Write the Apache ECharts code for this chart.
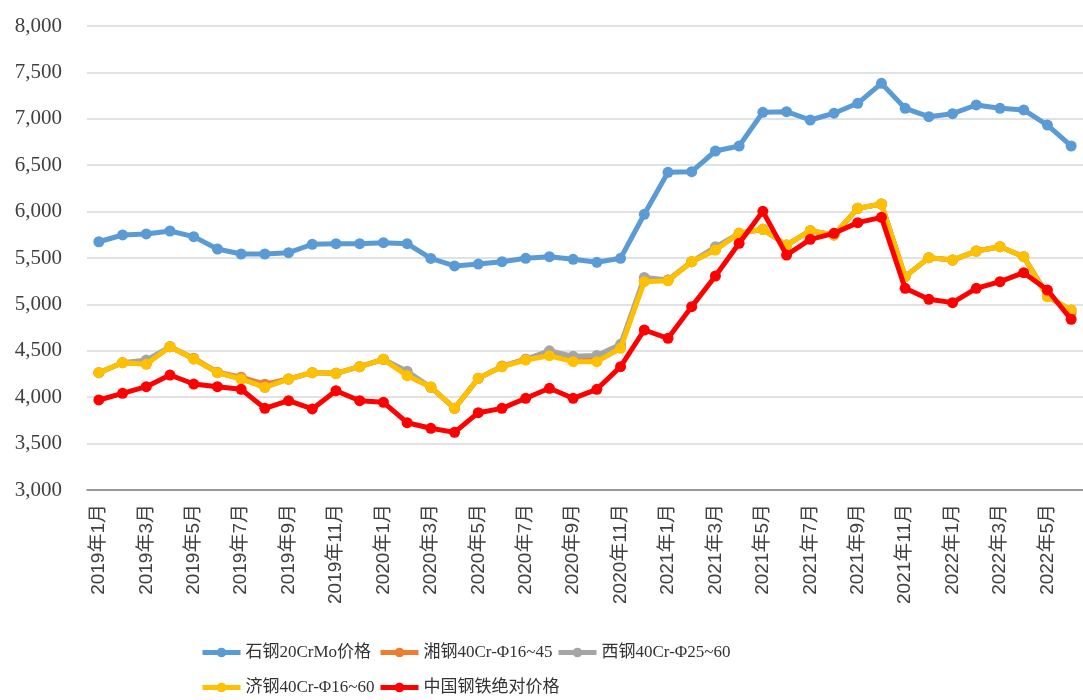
<!DOCTYPE html>
<html>
<head>
<meta charset="utf-8">
<script src="https://cdn.jsdelivr.net/npm/echarts@6/dist/echarts.min.js"></script>
<style>
  html, body { margin: 0; padding: 0; background: #fff; }
  #main { width: 1083px; height: 700px; }
</style>
</head>
<body>
<div id="main"></div>
<script>
// 月份
var months = []
;[2019, 2020, 2021, 2022].forEach(function (y) {
  for (var m = 1; m <= 12; m++) {
    if (y === 2022 && m > 6) break
    months.push(y + '年' + m + '月')
  }
})

var shiGang = [5675, 5748, 5759, 5791, 5730, 5597, 5543, 5543, 5557, 5648, 5654, 5654, 5665, 5654, 5495,
  5414, 5435, 5460, 5497, 5514, 5486, 5454, 5497, 5971, 6423, 6430, 6653, 6707, 7070,
  7077, 6987, 7060, 7167, 7382, 7113, 7023, 7055, 7149, 7113, 7095, 6933, 6707]
var xiangGang = [4264, 4372, 4360, 4544, 4420, 4270, 4215, 4140, 4196, 4264, 4257, 4329, 4408, 4240, 4110,
  3880, 4203, 4335, 4410, 4460, 4400, 4400, 4540, 5255, 5263, 5460, 5590, 5766, 5809,
  5640, 5794, 5748, 6035, 6082, 5299, 5504, 5478, 5575, 5622, 5514, 5100, 4910]
var xiGang = [4264, 4372, 4400, 4544, 4412, 4264, 4200, 4107, 4196, 4264, 4257, 4329, 4408, 4280, 4107,
  3880, 4203, 4329, 4410, 4500, 4440, 4450, 4570, 5290, 5263, 5460, 5620, 5766, 5809,
  5640, 5794, 5748, 6035, 6082, 5299, 5504, 5478, 5575, 5622, 5514, 5083, 4940]
var jiGang = [4264, 4372, 4354, 4544, 4412, 4264, 4196, 4107, 4196, 4264, 4257, 4329, 4408, 4232, 4110,
  3880, 4203, 4329, 4401, 4447, 4383, 4383, 4527, 5245, 5255, 5460, 5586, 5766, 5809,
  5640, 5794, 5748, 6035, 6082, 5299, 5504, 5478, 5575, 5622, 5514, 5083, 4940]
var zhongGuo = [3970, 4042, 4113, 4239, 4142, 4113, 4085, 3880, 3962, 3873, 4070, 3962, 3945, 3725, 3665,
  3621, 3833, 3880, 3988, 4096, 3988, 4085, 4329, 4724, 4634, 4976, 5306, 5658, 6003,
  5532, 5701, 5766, 5881, 5938, 5173, 5055, 5019, 5173, 5245, 5342, 5155, 4839]

var names = ['石钢20CrMo价格', '湘钢40Cr-Φ16~45', '西钢40Cr-Φ25~60', '济钢40Cr-Φ16~60', '中国钢铁绝对价格']
var colors = ['#5B9BD5', '#ED7D31', '#A5A5A5', '#FFC000', '#FF0000']
var values = [shiGang, xiangGang, xiGang, jiGang, zhongGuo]

var serif = '"Liberation Serif", "Noto Sans CJK SC", serif'
var legendPos = [[200, 644], [378, 644], [556, 644], [200, 679], [378, 679]]

var dom = echarts.init(document.getElementById('main'))
var option = {
  animation: false,
  color: colors,
  grid: { left: 87, right: -8, top: 26, bottom: 210 },
  legend: names.map(function (n, i) {
    return {
      data: [n],
      left: legendPos[i][0],
      top: legendPos[i][1],
      padding: 0,
      itemWidth: 38,
      itemHeight: 12,
      lineStyle: { width: 5 },
      textStyle: { fontFamily: serif, fontSize: 17, color: '#333' }
    }
  }),
  xAxis: {
    type: 'category',
    data: months,
    boundaryGap: true,
    axisLine: { lineStyle: { color: '#808080', width: 1.5 } },
    axisTick: { interval: 1, length: 6, lineStyle: { color: '#808080' } },
    axisLabel: {
      interval: 1,
      rotate: 90,
      margin: 14,
      color: '#404040',
      fontSize: 19,
      fontFamily: '"Liberation Sans", "Noto Sans CJK SC", sans-serif'
    }
  },
  yAxis: {
    type: 'value',
    min: 3000,
    max: 8000,
    interval: 500,
    axisLine: { show: false },
    axisTick: { show: false },
    splitLine: { lineStyle: { color: '#d9d9d9', width: 1.5 } },
    axisLabel: {
      margin: 25,
      color: '#404040',
      fontSize: 21,
      fontFamily: serif,
      formatter: function (v) { return v.toLocaleString('en-US') }
    }
  },
  series: names.map(function (n, i) {
    return {
      name: n,
      type: 'line',
      data: values[i],
      symbol: 'circle',
      symbolSize: 11,
      lineStyle: { width: 5 },
      z: 2 + i
    }
  })
}
dom.setOption(option)
</script>
</body>
</html>
